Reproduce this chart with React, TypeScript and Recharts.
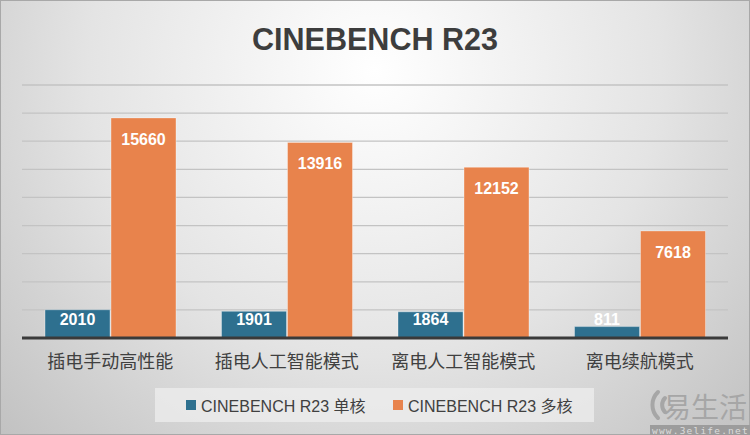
import React from "react";
import { Bar, BarChart, CartesianGrid, LabelList, XAxis, YAxis } from "recharts";

const categories = ["插电手动高性能", "插电人工智能模式", "离电人工智能模式", "离电续航模式"];
const singleCore = [2010, 1901, 1864, 811];
const multiCore = [15660, 13916, 12152, 7618];
const yTicks = [0, 2000, 4000, 6000, 8000, 10000, 12000, 14000, 16000, 18000];
const seriesNames = ["CINEBENCH R23 单核", "CINEBENCH R23 多核"];
const seriesColors = ["#2e708f", "#e8834c"];

const data = categories.map((name, i) => ({ name, single: singleCore[i], multi: multiCore[i] }));

const W = 750;
const H = 435;
const BASE_Y = 338;
const LATIN = "'Liberation Sans', Arial, 'Noto Sans CJK SC', sans-serif";

function BarValue(props: any) {
  const { x, y, width, height, value } = props;
  const cy = Math.min(y + 21, y + height - 19);
  return (
    <text
      x={x + width / 2}
      y={cy}
      dy="0.36em"
      textAnchor="middle"
      fill="#ffffff"
      fontFamily={LATIN}
      fontWeight="bold"
      fontSize={16}
    >
      {value}
    </text>
  );
}

function CategoryTick(props: any) {
  const { x, payload } = props;
  return (
    <text x={x} y={BASE_Y + 30} textAnchor="middle" fill="#404040" fontFamily={LATIN} fontSize={18}>
      {payload.value}
    </text>
  );
}

function Background() {
  return (
    <svg width={W} height={H} style={{ position: "absolute", left: 0, top: 0 }}>
      <defs>
        <radialGradient id="bg" cx="375" cy="70" r="520" gradientUnits="userSpaceOnUse">
          <stop offset="0" stopColor="#ffffff" />
          <stop offset="0.55" stopColor="#e4e4e4" />
          <stop offset="1" stopColor="#c2c2c2" />
        </radialGradient>
      </defs>
      <rect x={0} y={0} width={W} height={H} fill="url(#bg)" />
      <rect x={0.5} y={0.5} width={W - 1} height={H - 1} fill="none" stroke="#a8a8a8" strokeWidth={1} />
      <text
        x={375}
        y={50}
        textAnchor="middle"
        fill="#3d3d3d"
        fontFamily="'Liberation Sans Narrow', 'Liberation Sans', Arial, sans-serif"
        fontWeight="bold"
        fontSize={32}
        textLength={246}
        lengthAdjust="spacingAndGlyphs"
      >
        CINEBENCH R23
      </text>
      {/* watermark */}
      <g fill="none" stroke="#a6a6a6" strokeWidth={4} strokeLinecap="round">
        <path d="M 658 392 A 18 18 0 0 0 658 418" />
        <path d="M 665 398 A 10 10 0 0 0 665 412" />
      </g>
      <text x={663} y={418} fill="#a6a6a6" fontFamily="'Noto Sans CJK SC', sans-serif" fontSize={28}>
        易生活
      </text>
      <rect x={650} y={425} width={100} height={10} fill="#9c9c9c" />
      <text x={652} y={434} fill="#dcdcdc" fontFamily="'DejaVu Sans Mono', monospace" fontSize={9.5} letterSpacing={1.2}>
        www.3elife.net
      </text>
    </svg>
  );
}

function LegendBox() {
  return (
    <div
      style={{
        position: "absolute",
        left: 155,
        top: 388,
        width: 439,
        height: 34,
        background: "rgba(238,238,238,0.75)",
        fontFamily: LATIN,
        fontSize: 16,
        color: "#404040",
      }}
    >
      {seriesNames.map((name, i) => (
        <div
          key={name}
          style={{
            position: "absolute",
            left: i === 0 ? 31 : 238,
            top: 0,
            height: 34,
            display: "flex",
            alignItems: "center",
            whiteSpace: "nowrap",
          }}
        >
          <span style={{ display: "inline-block", width: 10, height: 10, background: seriesColors[i], marginRight: 5 }} />
          {name}
        </div>
      ))}
    </div>
  );
}

export default function App() {
  return (
    <div style={{ position: "absolute", left: 0, top: 0, width: W, height: H, overflow: "hidden" }}>
      <Background />
      <div style={{ position: "absolute", left: 0, top: 0 }}>
        <BarChart
          width={W}
          height={H}
          data={data}
          margin={{ top: 85, right: 22, bottom: 47, left: 22 }}
          barCategoryGap={23}
          barGap={1}
        >
          <CartesianGrid vertical={false} stroke="#c3c3c3" strokeWidth={1.3} />
          <YAxis hide domain={[0, 18000]} ticks={yTicks} />
          <XAxis
            dataKey="name"
            height={50}
            tickLine={false}
            tickSize={0}
            axisLine={{ stroke: "#3a3a3a", strokeWidth: 3 }}
            tick={<CategoryTick />}
            interval={0}
          />
          <Bar dataKey="single" name={seriesNames[0]} fill={seriesColors[0]} stroke="rgba(255,255,255,0.35)" isAnimationActive={false}>
            <LabelList dataKey="single" content={<BarValue />} />
          </Bar>
          <Bar dataKey="multi" name={seriesNames[1]} fill={seriesColors[1]} stroke="rgba(255,255,255,0.35)" isAnimationActive={false}>
            <LabelList dataKey="multi" content={<BarValue />} />
          </Bar>
        </BarChart>
      </div>
      <LegendBox />
    </div>
  );
}
